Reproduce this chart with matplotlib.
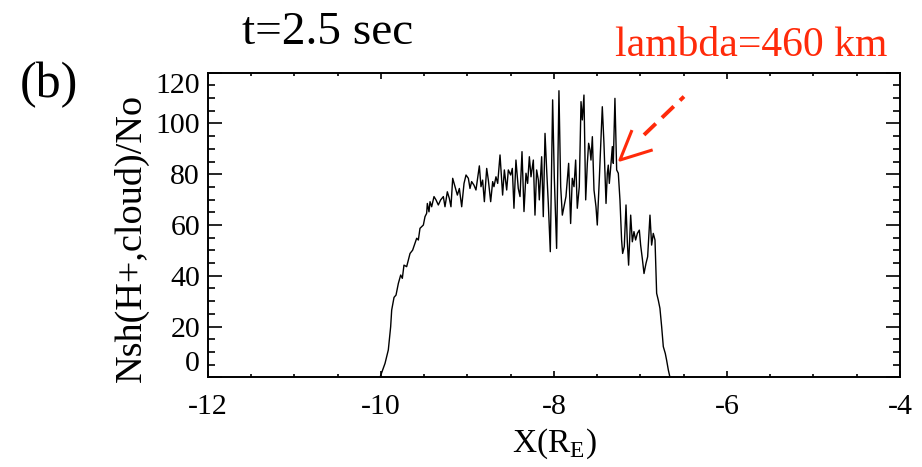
import matplotlib
matplotlib.use("Agg")
import matplotlib.pyplot as plt
from matplotlib.ticker import MultipleLocator

plt.rcParams['font.family'] = ['Liberation Serif', 'DejaVu Serif']
plt.rcParams['mathtext.fontset'] = 'custom'
plt.rcParams['mathtext.rm'] = 'Liberation Serif'

# Data
x_re = [-10.009, -9.951, -9.913, -9.886, -9.874, -9.847, -9.824, -9.797, -9.770, -9.751,
        -9.732, -9.701, -9.662, -9.632, -9.585, -9.566, -9.547, -9.508, -9.489, -9.470,
        -9.462, -9.443, -9.431, -9.412, -9.385, -9.362, -9.335, -9.308, -9.277, -9.258,
        -9.231, -9.208, -9.189, -9.169, -9.142, -9.115, -9.092, -9.065, -9.038, -9.015,
        -8.988, -8.969, -8.950, -8.923, -8.900, -8.884, -8.861, -8.842, -8.823, -8.803,
        -8.776, -8.757, -8.730, -8.707, -8.692, -8.669, -8.649, -8.622, -8.592, -8.572,
        -8.545, -8.526, -8.499, -8.480, -8.461, -8.438, -8.411, -8.391, -8.368, -8.345,
        -8.322, -8.303, -8.283, -8.264, -8.237, -8.218, -8.199, -8.179, -8.168, -8.141,
        -8.122, -8.102, -8.083, -8.064, -8.041, -8.014, -7.995, -7.968, -7.941, -7.921,
        -7.902, -7.883, -7.860, -7.829, -7.806, -7.787, -7.767, -7.748, -7.729, -7.706,
        -7.686, -7.671, -7.652, -7.632, -7.613, -7.598, -7.582, -7.571, -7.555, -7.536,
        -7.513, -7.498, -7.475, -7.440, -7.421, -7.397, -7.382, -7.371, -7.359, -7.344,
        -7.324, -7.313, -7.294, -7.274, -7.255, -7.236, -7.217, -7.205, -7.186, -7.166,
        -7.151, -7.136, -7.112, -7.093, -7.074, -7.055, -7.035, -7.012, -6.997, -6.978,
        -6.958, -6.935, -6.916, -6.889, -6.870, -6.851, -6.831, -6.812, -6.793, -6.774,
        -6.754, -6.735, -6.712, -6.697, -6.677, -6.658]
nsh = [0.0, 5.5, 10.8, 19.9, 26.5, 31.5, 32.4, 37.0, 40.3, 39.0,
       44.2, 43.6, 48.8, 50.1, 54.8, 54.1, 58.7, 60.0, 63.3, 64.6,
       68.5, 65.2, 69.2, 67.2, 71.2, 69.9, 67.9, 69.9, 71.2, 67.2,
       73.1, 70.5, 67.2, 78.4, 75.1, 71.8, 74.4, 67.2, 76.4, 79.7,
       78.4, 74.4, 77.1, 75.7, 73.8, 77.7, 83.3, 75.1, 77.7, 69.2,
       82.3, 77.7, 69.2, 77.1, 75.1, 79.0, 76.4, 87.6, 71.8, 81.7,
       73.8, 81.7, 79.7, 82.3, 66.6, 85.6, 74.4, 71.2, 88.9, 65.3,
       80.4, 76.4, 86.9, 79.0, 85.6, 63.9, 81.7, 77.7, 69.9, 86.9,
       63.3, 96.1, 81.7, 68.5, 49.5, 109.3, 79.0, 50.8, 112.9, 75.1,
       63.9, 67.2, 71.2, 84.3, 60.6, 78.4, 75.1, 85.6, 66.6, 75.1,
       108.6, 101.4, 111.2, 69.9, 84.3, 92.2, 89.5, 85.6, 94.8, 73.8,
       67.2, 60.0, 77.7, 106.6, 92.2, 68.5, 80.4, 83.6, 76.4, 82.3,
       90.9, 84.3, 109.9, 81.7, 80.4, 69.9, 54.1, 48.8, 51.5, 67.9,
       53.4, 44.2, 63.9, 53.4, 57.4, 54.1, 56.7, 58.0, 52.1, 46.9,
       40.9, 44.9, 47.5, 63.9, 52.1, 56.7, 54.1, 33.1, 30.4, 27.2,
       19.9, 12.1, 9.4, 6.8, 2.9, 0.0]
x_ticks = [-12, -10, -8, -6, -4]
y_ticks = [0, 20, 40, 60, 80, 100, 120]

red = '#ff2a0a'

fig = plt.figure(figsize=(9.22, 4.67), dpi=100)
ax = fig.add_axes([0.2253, 0.192, 0.7508, 0.6523])
ax.plot(x_re, nsh, color='black', lw=1.0)
ax.set_xlim(-12, -4)
ax.set_ylim(0, 120)
ax.set_xticks(x_ticks)
ax.set_yticks(y_ticks)
ax.xaxis.set_minor_locator(MultipleLocator(0.5))
ax.yaxis.set_minor_locator(MultipleLocator(5))
for s in ax.spines.values():
    s.set_linewidth(1.4)
ax.tick_params(which='both', direction='in', top=True, right=True, width=1.2,
               labelsize=21.5, colors='black')
ax.tick_params(axis='x', which='major', length=4.3, pad=12)
ax.tick_params(axis='x', which='minor', length=2.2)
ax.tick_params(axis='y', which='major', length=10, pad=5.5)
ax.tick_params(axis='y', which='minor', length=5)
ax.set_xticklabels([str(v) for v in x_ticks])
ax.set_yticklabels([str(v) for v in y_ticks])
ylabs = ax.get_yticklabels()
ylabs[0].set_va('bottom')
ylabs[-1].set_va('top')

ax.set_xlabel(r'X(R$_{\mathrm{E}}$)', fontsize=24, labelpad=5)
fig.text(131 / 922, 1 - 238 / 467, 'Nsh(H+,cloud)/No', rotation=90,
         ha='center', va='center', fontsize=27.5)

fig.text(242 / 922, 1 - 43.5 / 467, 't=2.5 sec', fontsize=34, ha='left', va='baseline')
fig.text(20 / 922, 1 - 97 / 467, '(b)', fontsize=36, ha='left', va='baseline')
fig.text(615 / 922, 1 - 56 / 467, 'lambda=460 km', fontsize=30, color=red,
         ha='left', va='baseline')

# arrow annotation
ax.plot([-7.097, -7.236, -6.858], [97.4, 85.6, 89.6], color=red, lw=2.2,
        solid_capstyle='butt', clip_on=False)
ax.plot([-6.958, -6.496], [95.5, 110.6], color=red, lw=2.8, ls=(0, (4.2, 2.2)),
        clip_on=False)

fig.savefig('out.png', dpi=100)
